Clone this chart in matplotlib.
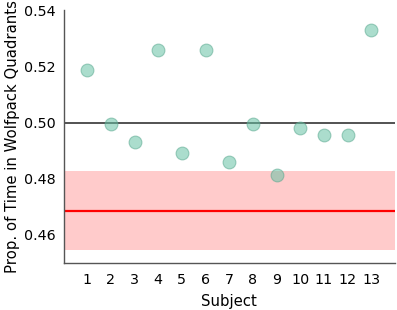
import numpy as np
import matplotlib.pyplot as plt

subjects = list(range(1, 14))
prop_time = [0.5186, 0.4996, 0.4929, 0.5257, 0.4893, 0.5257, 0.4861,
             0.4996, 0.4814, 0.4979, 0.4957, 0.4957, 0.5329]
chance = 0.50
null_mean = 0.4686
null_low, null_high = 0.4546, 0.4829

fig = plt.figure(figsize=(3.97, 3.10), dpi=100)
ax = fig.add_axes([0.16, 0.152, 0.835, 0.815])

ax.axhspan(null_low, null_high, color='#ff9999', alpha=0.5, lw=0, zorder=1)
ax.axhline(null_mean, color='red', lw=1.6, zorder=2)
ax.axhline(chance, color='#444444', lw=1.3, zorder=2)
ax.scatter(subjects, prop_time, s=85, color='#66c2a5', alpha=0.55,
           edgecolor='#5aa88f', linewidth=0.8, zorder=3)

ax.set_xlim(0, 14)
ax.set_ylim(0.45, 0.54)
ax.set_xticks(subjects)
ax.set_yticks([0.46, 0.48, 0.50, 0.52, 0.54])
ax.set_yticklabels(['0.46', '0.48', '0.50', '0.52', '0.54'])
ax.tick_params(length=0, labelsize=10.3)
ax.tick_params(axis='y', pad=5.5)
ax.tick_params(axis='x', pad=7)
for s in ['top', 'right']:
    ax.spines[s].set_visible(False)
for s in ['left', 'bottom']:
    ax.spines[s].set_color('#555555')
    ax.spines[s].set_linewidth(1.0)
ax.set_xlabel('Subject', fontsize=10.7, labelpad=5)
ax.set_ylabel('Prop. of Time in Wolfpack Quadrants', fontsize=10.7, labelpad=3)

fig.savefig('out.png', dpi=100)
